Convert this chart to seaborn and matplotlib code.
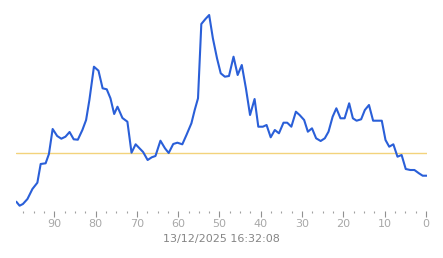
import matplotlib
matplotlib.use("Agg")
import matplotlib.pyplot as plt
from matplotlib.ticker import MultipleLocator
import seaborn as sns
import pandas as pd

# x: minutes ago, y: value (arbitrary units)
x_ago = [99.2, 98.4, 97.6, 96.5, 95.3, 94.1, 93.3, 92.1, 91.3, 90.4, 89.3, 88.3, 87.3,
         86.3, 85.3, 84.3, 83.2, 82.3, 81.5, 80.4, 79.3, 78.3, 77.3, 76.4, 75.5, 74.7,
         73.5, 72.3, 71.3, 70.3, 68.5, 67.4, 66.4, 65.5, 64.3, 63.2, 62.3, 61.2, 60.2,
         59.0, 58.0, 56.8, 56.0, 55.2, 54.4, 53.4, 52.5, 51.6, 50.6, 49.7, 48.7, 47.7,
         46.6, 45.6, 44.6, 43.6, 42.6, 41.5, 40.6, 39.5, 38.6, 37.6, 36.6, 35.6, 34.5,
         33.6, 32.6, 31.5, 30.6, 29.5, 28.6, 27.6, 26.6, 25.5, 24.5, 23.6, 22.6, 21.7,
         20.7, 19.7, 18.6, 17.7, 16.8, 15.7, 14.8, 13.8, 12.8, 11.7, 10.7, 9.8, 8.9,
         7.9, 6.9, 5.9, 4.9, 3.8, 2.8, 1.7, 0.8, -0.2]
y_val = [9.3, 5.3, 7.0, 12.0, 22.0, 28.3, 47.0, 47.7, 57.0, 82.0, 75.0, 72.3, 74.3,
         79.0, 71.7, 71.3, 81.0, 91.0, 111.0, 144.3, 140.3, 122.7, 121.7, 112.7, 97.0,
         104.3, 93.0, 89.3, 58.3, 66.7, 59.0, 51.0, 53.7, 55.0, 70.3, 62.7, 58.0, 67.0,
         68.3, 66.7, 76.0, 87.7, 101.0, 112.7, 187.0, 192.0, 196.0, 172.7, 152.7, 137.7,
         134.3, 135.0, 154.3, 136.0, 146.0, 122.7, 96.0, 112.0, 84.3, 84.3, 86.0, 73.7,
         81.0, 77.7, 88.3, 88.3, 84.3, 99.3, 96.0, 91.0, 79.3, 82.7, 72.7, 70.0, 72.7,
         79.3, 94.3, 102.7, 92.7, 92.7, 107.7, 92.7, 90.3, 91.7, 101.0, 106.0, 90.3,
         90.3, 90.3, 71.0, 64.3, 66.7, 54.3, 56.0, 42.0, 41.0, 41.0, 37.7, 35.3, 35.3]
ref_level = 58.0
tick_values = [90, 80, 70, 60, 50, 40, 30, 20, 10, 0]
time_label = "13/12/2025 16:32:08"

n = min(len(x_ago), len(y_val))
df = pd.DataFrame({"ago": x_ago[:n], "value": y_val[:n]})

sns.set_theme(style="white")
plt.rcParams["font.family"] = ["DejaVu Sans"]

W, H = 443, 258
fig = plt.figure(figsize=(W / 100, H / 100), dpi=100)
left_px, right_px, top_px, bottom_px = 16.3, 426.8, 10, 211
ax = fig.add_axes([left_px / W, 1 - bottom_px / H, (right_px - left_px) / W, (bottom_px - top_px) / H])

ax.axhline(ref_level, color="#f3d37c", lw=1.0, zorder=1)
sns.lineplot(data=df, x="ago", y="value", ax=ax, color="#2a5fd8", lw=1.5, sort=False,
             zorder=2)

ax.set_xlim(99.2, -0.2)
ax.set_ylim(0, 201)
for s in ax.spines.values():
    s.set_visible(False)
ax.set_yticks([])
ax.set_xticks(tick_values)
ax.set_xticklabels([str(t) for t in tick_values])
ax.xaxis.set_minor_locator(MultipleLocator(2.5))
ax.tick_params(axis="x", which="major", bottom=True, length=4, width=0.8, color="#909090",
               direction="out", labelsize=8, labelcolor="#a8a8a8", pad=1.5)
ax.tick_params(axis="x", which="minor", bottom=True, length=1.3, width=0.8, color="#a0a0a0",
               direction="out")
ax.set_xlabel(time_label, fontsize=8, color="#858585", labelpad=4)
ax.set_ylabel("")
ax.grid(False)

fig.savefig("out.png", dpi=100, facecolor="white")
